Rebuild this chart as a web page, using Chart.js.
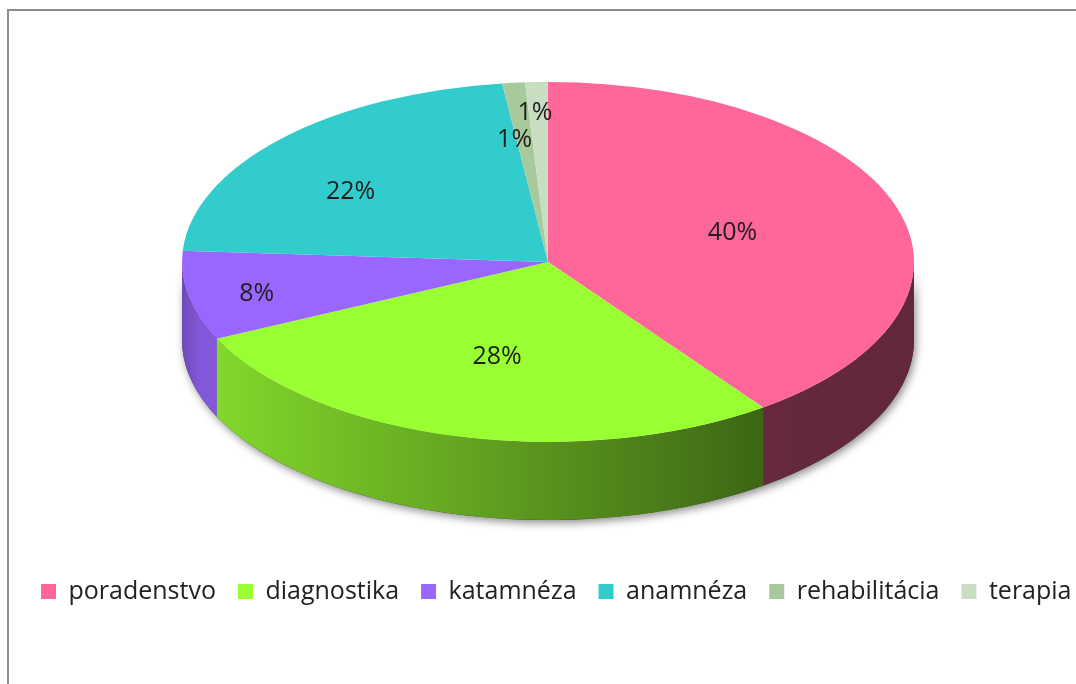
<!DOCTYPE html>
<html><head><meta charset="utf-8">
<script src="https://cdn.jsdelivr.net/npm/chart.js@4.4.1/dist/chart.umd.min.js"></script>
<style>html,body{margin:0;padding:0;background:#fff;overflow:hidden}</style>
</head><body>
<canvas id="c" width="1076" height="684"></canvas>
<script>
// ---- data ----
const categories = ['poradenstvo', 'diagnostika', 'katamnéza', 'anamnéza', 'rehabilitácia', 'terapia'];
const percentValues = [40, 28, 8, 22, 1, 1];
const sliceColors = ['#FF6699', '#99FF33', '#9966FF', '#33CCCC', '#A8C99C', '#C8DDC2'];

// ---- style / layout constants ----
const PIE = {cx: 548, cy: 262, rx: 366, ry: 180, depth: 78};
const LABEL_FRACTIONS = [[0.53, 0.53], [0.56, 0.545], [0.81, 0.95], [0.74, 0.57], [0.97, 0.68], [1.13, 0.83]];
const FONT_FAMILY = "'Open Sans', sans-serif";

function hexToRgb(h) {
  const n = parseInt(h.slice(1), 16);
  return [(n >> 16) & 255, (n >> 8) & 255, n & 255];
}
function shade(h, f) {
  const [r, g, b] = hexToRgb(h);
  return `rgb(${Math.round(r * f)},${Math.round(g * f)},${Math.round(b * f)})`;
}

const frame = {
  id: 'frame',
  beforeDraw(chart) {
    const ctx = chart.ctx;
    ctx.save();
    ctx.fillStyle = '#fff';
    ctx.fillRect(0, 0, chart.width, chart.height);
    ctx.strokeStyle = '#8c8c8c';
    ctx.lineWidth = 2;
    ctx.strokeRect(8, 10, chart.width + 20, chart.height + 20);
    ctx.restore();
  }
};

const pie3d = {
  id: 'pie3d',
  beforeDatasetsDraw(chart) {
    const ctx = chart.ctx;
    const {cx, cy, rx, ry, depth} = PIE;
    const meta = chart.getDatasetMeta(0);
    const band = (a0, a1) => {
      ctx.beginPath();
      ctx.ellipse(cx, cy, rx, ry, 0, a0, a1, false);
      ctx.ellipse(cx, cy + depth, rx, ry, 0, a1, a0, true);
      ctx.closePath();
    };
    ctx.save();
    ctx.shadowColor = 'rgba(0,0,0,0.45)';
    ctx.shadowBlur = 8;
    ctx.shadowOffsetX = 2;
    ctx.shadowOffsetY = 3;
    ctx.fillStyle = '#444';
    band(0, Math.PI);
    ctx.fill();
    ctx.restore();
    meta.data.forEach((el, i) => {
      const {startAngle, endAngle} = el.getProps(['startAngle', 'endAngle'], true);
      const a0 = Math.max(startAngle, 0);
      const a1 = Math.min(endAngle, Math.PI);
      if (a1 <= a0) return;
      const col = sliceColors[i];
      const g = ctx.createLinearGradient(cx - rx, 0, cx + rx, 0);
      g.addColorStop(0, shade(col, 0.72));
      g.addColorStop(0.025, shade(col, 0.86));
      g.addColorStop(0.795, shade(col, 0.40));
      g.addColorStop(1, shade(col, 0.38));
      ctx.save();
      ctx.fillStyle = g;
      band(a0, a1 + 0.004);
      ctx.fill();
      ctx.restore();
    });
  },
  beforeDatasetDraw(chart) {
    const ctx = chart.ctx;
    const el = chart.getDatasetMeta(0).data[0];
    const {x, y, outerRadius} = el.getProps(['x', 'y', 'outerRadius'], true);
    ctx.save();
    ctx.translate(PIE.cx, PIE.cy);
    ctx.scale(PIE.rx / outerRadius, PIE.ry / outerRadius);
    ctx.translate(-x, -y);
  },
  afterDatasetDraw(chart) {
    chart.ctx.restore();
  },
  afterDatasetsDraw(chart) {
    const ctx = chart.ctx;
    const meta = chart.getDatasetMeta(0);
    const data = chart.data.datasets[0].data;
    const total = data.reduce((a, b) => a + b, 0);
    ctx.save();
    ctx.font = `25px ${FONT_FAMILY}`;
    ctx.fillStyle = '#1e1e1e';
    ctx.textAlign = 'center';
    ctx.textBaseline = 'middle';
    meta.data.forEach((el, i) => {
      const {startAngle, endAngle} = el.getProps(['startAngle', 'endAngle'], true);
      const m = (startAngle + endAngle) / 2;
      const [fx, fy] = LABEL_FRACTIONS[i];
      const px = PIE.cx + PIE.rx * fx * Math.cos(m);
      const py = PIE.cy + PIE.ry * fy * Math.sin(m);
      ctx.fillText(Math.round(data[i] / total * 100) + '%', px, py);
    });
    ctx.restore();
  }
};

new Chart(document.getElementById('c'), {
  type: 'pie',
  data: {
    labels: categories,
    datasets: [{
      data: percentValues,
      backgroundColor: sliceColors,
      borderWidth: 0,
      clip: false
    }]
  },
  options: {
    responsive: false,
    animation: false,
    layout: {padding: {left: 19, right: -60, top: 20, bottom: 70}},
    plugins: {
      tooltip: {enabled: false},
      legend: {
        position: 'bottom',
        align: 'start',
        labels: {
          boxWidth: 15,
          boxHeight: 15,
          padding: 22,
          color: '#222',
          font: {family: FONT_FAMILY, size: 25}
        }
      }
    }
  },
  plugins: [frame, pie3d]
});
</script>
</body></html>
